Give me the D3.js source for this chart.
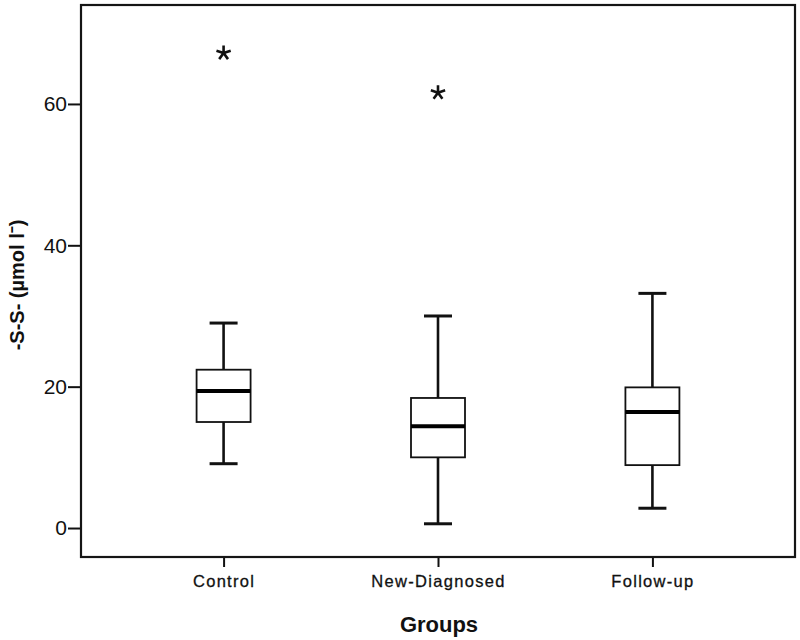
<!DOCTYPE html>
<html><head><meta charset="utf-8">
<script src="https://cdn.jsdelivr.net/npm/d3@7"></script>
<style>body{margin:0;background:#fff}svg{display:block}</style>
</head><body><svg id="c" width="800" height="640"></svg>
<script>
const categories = ["Control", "New-Diagnosed", "Follow-up"];
const whiskerLow  = [9.1, 0.6, 2.8];
const q1          = [15.0, 10.0, 8.9];
const medians     = [19.4, 14.4, 16.4];
const q3          = [22.4, 18.4, 19.9];
const whiskerHigh = [29.0, 30.0, 33.2];
const outliers    = [[67.2], [61.6], []];
const yTicks = [0, 20, 40, 60];
const yTitle = "-S-S- (µmol l⁻)";
const xTitle = "Groups";

const svg = d3.select("#c");
const L = 81, R = 795, T = 5, B = 557;
const x = d3.scalePoint().domain(categories).range([L, R]).padding(0.665);
const y = d3.scaleLinear().domain([-4.1, 74]).range([B, T]);

// axes
const ya = svg.append("g").attr("transform", `translate(${L},0)`)
  .call(d3.axisLeft(y).tickValues(yTicks).tickSize(13).tickPadding(1));
ya.select(".domain").remove();
ya.selectAll("line").attr("stroke", "#111").attr("stroke-width", 2);
ya.selectAll("text").attr("font-family", "Liberation Sans, Arial, sans-serif").attr("font-size", 21).attr("fill", "#111");

const xa = svg.append("g").attr("transform", `translate(0,${B})`)
  .call(d3.axisBottom(x).tickSize(10).tickPadding(8));
xa.select(".domain").remove();
xa.selectAll("line").attr("stroke", "#111").attr("stroke-width", 2);
xa.selectAll("text").attr("font-family", "Liberation Sans, Arial, sans-serif").attr("font-size", 16.5)
  .attr("letter-spacing", 1.3).attr("fill", "#111").attr("stroke", "#111").attr("stroke-width", 0.3);

// frame
svg.append("rect").attr("x", L).attr("y", T).attr("width", R - L).attr("height", B - T)
  .attr("fill", "none").attr("stroke", "#151515").attr("stroke-width", 2.2);

const boxW = 54, capW = 28;
const data = categories.map((c, i) => ({c, lo: whiskerLow[i], q1: q1[i], med: medians[i], q3: q3[i], hi: whiskerHigh[i], out: outliers[i]}));
const g = svg.append("g").selectAll("g").data(data).join("g");
// whiskers
g.append("line").attr("x1", d => x(d.c)).attr("x2", d => x(d.c)).attr("y1", d => y(d.q3)).attr("y2", d => y(d.hi))
  .attr("stroke", "#111").attr("stroke-width", 2.6);
g.append("line").attr("x1", d => x(d.c)).attr("x2", d => x(d.c)).attr("y1", d => y(d.q1)).attr("y2", d => y(d.lo))
  .attr("stroke", "#111").attr("stroke-width", 2.6);
// caps
g.append("line").attr("x1", d => x(d.c) - capW / 2).attr("x2", d => x(d.c) + capW / 2).attr("y1", d => y(d.hi)).attr("y2", d => y(d.hi))
  .attr("stroke", "#111").attr("stroke-width", 3);
g.append("line").attr("x1", d => x(d.c) - capW / 2).attr("x2", d => x(d.c) + capW / 2).attr("y1", d => y(d.lo)).attr("y2", d => y(d.lo))
  .attr("stroke", "#111").attr("stroke-width", 3);
// box
g.append("rect").attr("x", d => x(d.c) - boxW / 2).attr("width", boxW)
  .attr("y", d => y(d.q3)).attr("height", d => y(d.q1) - y(d.q3))
  .attr("fill", "#fff").attr("stroke", "#111").attr("stroke-width", 1.8);
// median
g.append("line").attr("x1", d => x(d.c) - boxW / 2).attr("x2", d => x(d.c) + boxW / 2).attr("y1", d => y(d.med)).attr("y2", d => y(d.med))
  .attr("stroke", "#000").attr("stroke-width", 4);
// outliers (five-armed asterisk)
const star = (cx, cy, r) => d3.range(5).map(k => {
  const a = -Math.PI / 2 + k * 2 * Math.PI / 5;
  return `M${cx},${cy}L${cx + r * Math.cos(a)},${cy + r * Math.sin(a)}`;
}).join("");
g.selectAll("path.out").data(d => d.out.map(v => ({c: d.c, v}))).join("path").attr("class", "out")
  .attr("d", d => star(x(d.c), y(d.v), 7.5)).attr("stroke", "#111").attr("stroke-width", 2.6).attr("fill", "none");

// titles
svg.append("text").attr("x", (L + R) / 2 + 1).attr("y", 632).attr("text-anchor", "middle")
  .attr("font-family", "Liberation Sans, Arial, sans-serif").attr("font-weight", "bold").attr("font-size", 22).attr("fill", "#111").text(xTitle);
svg.append("text").attr("transform", `translate(24,${(T + B) / 2 + 4}) rotate(-90)`).attr("text-anchor", "middle")
  .attr("font-family", "Liberation Sans, Arial, sans-serif").attr("font-weight", "bold").attr("font-size", 20).attr("fill", "#111").text(yTitle);
</script></body></html>
